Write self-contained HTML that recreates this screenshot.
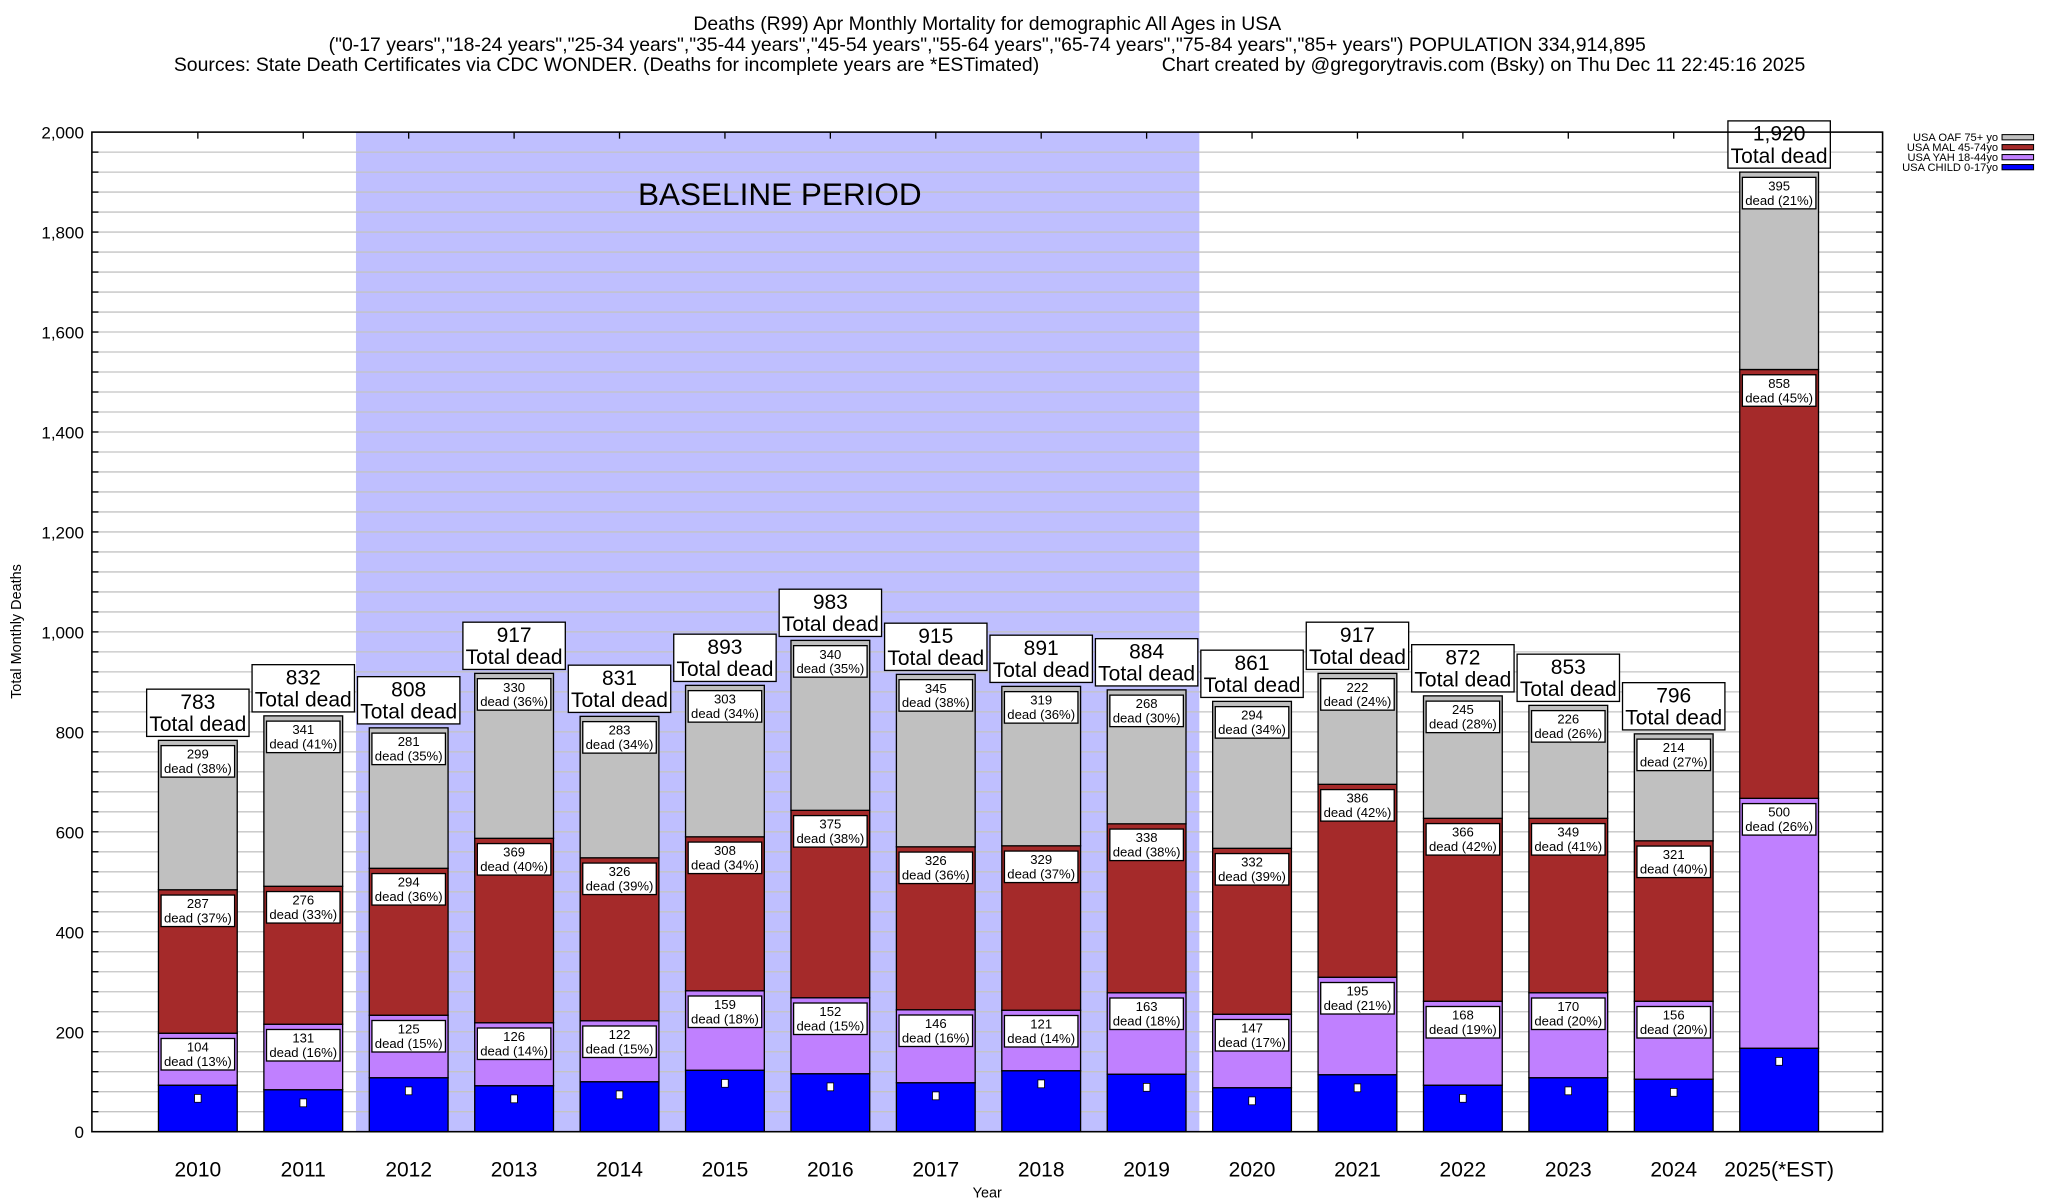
<!DOCTYPE html>
<html><head><meta charset="utf-8"><style>
html,body{margin:0;padding:0;background:#fff;}
svg{display:block;font-family:"Liberation Sans",Arial,sans-serif;}
</style></head><body>
<svg id="chart" width="2048" height="1200" viewBox="0 0 1560 914" xmlns="http://www.w3.org/2000/svg">
<rect width="1560" height="914" fill="#fff"/>
<g font-size="14.8" text-anchor="middle" fill="#000">
<text x="752" y="23">Deaths (R99) Apr Monthly Mortality for demographic All Ages in USA</text>
<text x="752" y="39">("0-17 years","18-24 years","25-34 years","35-44 years","45-54 years","55-64 years","65-74 years","75-84 years","85+ years") POPULATION 334,914,895</text>
<text x="462" y="54">Sources: State Death Certificates via CDC WONDER. (Deaths for incomplete years are *ESTimated)</text>
<text x="1130" y="54">Chart created by @gregorytravis.com (Bsky) on Thu Dec 11 22:45:16 2025</text>
</g>
<g id="plot"></g>
</svg>
<script>
const years = ["2010","2011","2012","2013","2014","2015","2016","2017","2018","2019","2020","2021","2022","2023","2024","2025(*EST)"];
const totals = [783,832,808,917,831,893,983,915,891,884,861,917,872,853,796,1920];
const oaf = [299,341,281,330,283,303,340,345,319,268,294,222,245,226,214,395];
const mal = [287,276,294,369,326,308,375,326,329,338,332,386,366,349,321,858];
const yah = [104,131,125,126,122,159,152,146,121,163,147,195,168,170,156,500];
const yTicks = [0,200,400,600,800,1000,1200,1400,1600,1800,2000];
const baselineStart = 2, baselineEnd = 9;

const NS="http://www.w3.org/2000/svg";
const g=document.getElementById('plot');
const L=70,R=1434,T=100.6,B=862,YMAX=2000;
const y=v=>B-(v/YMAX)*(B-T);
const step=80.3, x0=150.7;
const xc=i=>x0+i*step;
const BW=60;
function el(t,a,p){const e=document.createElementNS(NS,t);for(const k in a)e.setAttribute(k,a[k]);(p||g).appendChild(e);return e;}
const fmt=v=>v.toLocaleString('en-US');

const bs=el('rect',{x:xc(baselineStart)-step/2,y:T,width:(baselineEnd-baselineStart+1)*step,height:B-T,fill:'#bfbfff'});


for(let v=40;v<YMAX;v+=40){
  const ln=el('line',{x1:L,x2:R,y1:y(v),y2:y(v),stroke:'#c4c4c4','stroke-width':1});
  
  
  el('line',{x1:L,x2:L+5,y1:y(v),y2:y(v),stroke:'#000','stroke-width':1});
  el('line',{x1:R-5,x2:R,y1:y(v),y2:y(v),stroke:'#000','stroke-width':1});
}
const bt=el('text',{x:594,y:156,'font-size':24,'text-anchor':'middle'});
bt.textContent='BASELINE PERIOD';



yTicks.forEach(v=>{
  const t=el('text',{x:64,y:y(v)+5,'font-size':13,'text-anchor':'end'});
  t.textContent=fmt(v);
  
  
});
years.forEach((yr,i)=>{
  el('line',{x1:xc(i),x2:xc(i),y1:T,y2:T+5,stroke:'#000'});
});

const colors={oaf:'#c0c0c0',mal:'#a52a2a',yah:'#c080ff',child:'#0000ff'};
function segLabel(cx,top,val,tot){
  const bx=cx-28, by=top+4;
  el('rect',{x:bx,y:by,width:56,height:24,fill:'#fff',stroke:'#000','stroke-width':1});
  const t1=el('text',{x:cx,y:by+10,'font-size':10,'text-anchor':'middle'});t1.textContent=val;
  const t2=el('text',{x:cx,y:by+21,'font-size':10,'text-anchor':'middle'});t2.textContent='dead ('+Math.round(val/tot*100)+'%)';
}
years.forEach((yr,i)=>{
  const cx=xc(i),tot=totals[i];
  const child=tot-oaf[i]-mal[i]-yah[i];
  const segs=[['child',child],['yah',yah[i]],['mal',mal[i]],['oaf',oaf[i]]];
  let acc=0;
  segs.forEach(([k,v])=>{
    const r=el('rect',{x:cx-BW/2,y:y(acc+v),width:BW,height:y(acc)-y(acc+v),fill:colors[k],stroke:'#000','stroke-width':1});
    
    
    if(k==='child'){
      el('rect',{x:cx-2.5,y:y(acc+v)+7,width:5,height:6,fill:'#fff',stroke:'#000','stroke-width':0.6});
    } else segLabel(cx,y(acc+v),v,tot);
    acc+=v;
  });
  const top=y(tot);
  const tb=el('rect',{x:cx-39,y:top-39,width:78,height:36,fill:'#fff',stroke:'#000','stroke-width':1});
  
  
  const a=el('text',{x:cx,y:top-24,'font-size':16,'text-anchor':'middle'});a.textContent=fmt(tot);
  const b=el('text',{x:cx,y:top-7,'font-size':16,'text-anchor':'middle'});b.textContent='Total dead';
  const xl=el('text',{x:cx,y:896,'font-size':16,'text-anchor':'middle'});xl.textContent=yr;
  
  
});
const fr=el('rect',{x:L,y:T,width:R-L,height:B-T,fill:'none',stroke:'#000','stroke-width':1.2});


const xt=el('text',{x:752,y:912,'font-size':11,'text-anchor':'middle'});xt.textContent='Year';


const yt=el('text',{x:0,y:0,'font-size':11,'text-anchor':'middle',transform:'translate(16,481) rotate(-90)'});yt.textContent='Total Monthly Deaths';



const leg=[['USA OAF 75+ yo','oaf'],['USA MAL 45-74yo','mal'],['USA YAH 18-44yo','yah'],['USA CHILD 0-17yo','child']];
leg.forEach(([lab,k],i)=>{
  const ly=104.5+i*7.6;
  const t=el('text',{x:1522,y:ly+3,'font-size':8.5,'text-anchor':'end'});t.textContent=lab;
  
  
  el('rect',{x:1525,y:ly-2,width:24,height:4,fill:colors[k],stroke:'#000','stroke-width':0.8});
});
</script>
</body></html>
